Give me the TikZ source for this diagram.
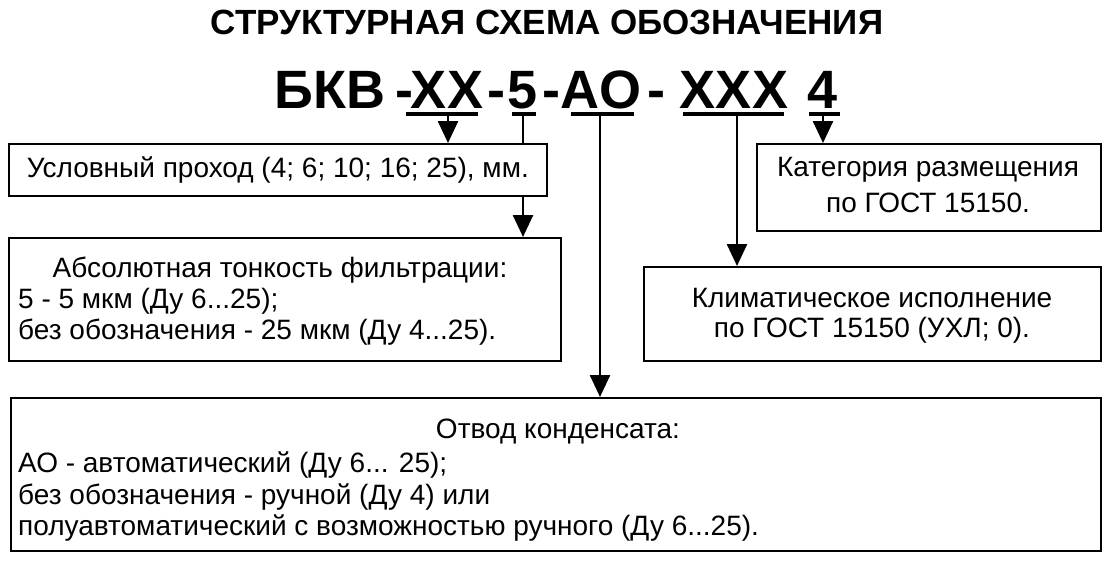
\documentclass[tikz,border=0pt]{standalone}
\usepackage{fontspec}
\setmainfont{Liberation Sans}
\usetikzlibrary{arrows.meta}
\begin{document}
\begin{tikzpicture}[x=1pt,y=-1pt,
  box/.style={draw,line width=1.6pt},
  txt/.style={font=\fontsize{28}{32}\selectfont,inner sep=0pt},
  code/.style={font=\bfseries\fontsize{54}{60}\selectfont,inner sep=0pt,anchor=base},
  ul/.style={line width=4pt},
  con/.style={line width=2.6pt},
  arr/.style={con,-{Triangle[width=20pt,length=22pt]}}]
\useasboundingbox (0,0) rectangle (1111,562);
\node[font=\bfseries\fontsize{35}{40}\selectfont,inner sep=0pt] (title) at (547,22) {СТРУКТУРНАЯ СХЕМА ОБОЗНАЧЕНИЯ};
\node[code] (c1) at (330,108) {БКВ};
\node[code] (c1d) at (404,108) {-};
\node[code] (c2) at (447,108) {XX};
\node[code] (c3) at (496,108) {-};
\node[code] (c4) at (523,108) {5};
\node[code] (c5) at (551,108) {-};
\node[code] (c6) at (601,108) {AO};
\node[code] (c7) at (656,108) {-};
\node[code] (c8) at (734,108) {XXX};
\node[code] (c9) at (823,108) {4};
\coordinate (u2a) at (406,114); \coordinate (u2b) at (478,114);
\coordinate (u4a) at (512,114); \coordinate (u4b) at (536,114);
\coordinate (u6a) at (571,114); \coordinate (u6b) at (634,114);
\coordinate (u8a) at (683,114); \coordinate (u8b) at (784,114);
\coordinate (u9a) at (809,114); \coordinate (u9b) at (840,114);
\foreach \a/\b in {u2a/u2b,u4a/u4b,u6a/u6b,u8a/u8b,u9a/u9b} \draw[ul] (\a) -- (\b);
% boxes
\node[box,minimum width=538,minimum height=52,anchor=north west] (b1) at (8,143) {};
\node[txt] at (b1.center) {Условный проход (4; 6; 10; 16; 25), мм.};
\node[box,minimum width=552,minimum height=123,anchor=north west] (b2) at (8,237) {};
\node[txt] at (280,270) {Абсолютная тонкость фильтрации:};
\node[txt,anchor=west] at (18,301) {5 - 5 мкм (Ду 6...25);};
\node[txt,anchor=west] at (18,332) {без обозначения - 25 мкм (Ду 4...25).};
\node[box,minimum width=1090,minimum height=153,anchor=north west] (b3) at (10,397) {};
\node[txt] at (558,432) {Отвод конденсата:};
\node[txt,anchor=west] at (18,465) {АО - автоматический (Ду 6... 25);};
\node[txt,anchor=west] at (18,497) {без обозначения - ручной (Ду 4) или};
\node[txt,anchor=west] at (18,528) {полуавтоматический с возможностью ручного (Ду 6...25).};
\node[box,minimum width=457,minimum height=94,anchor=north west] (b4) at (643,266) {};
\node[txt] at (872,298) {Климатическое исполнение};
\node[txt] at (872,330) {по ГОСТ 15150 (УХЛ; 0).};
\node[box,minimum width=344,minimum height=87,anchor=north west] (b5) at (756,143) {};
\node[txt] at (928,170) {Категория размещения};
\node[txt] at (928,203) {по ГОСТ 15150.};
% connectors
\draw[arr] (448,114) -- (b1.north -| 448,0);
\draw[con] (523,114) -- (b1.north -| 523,0);
\draw[arr] (b1.south -| 523,0) -- (b2.north -| 523,0);
\draw[arr] (600,114) -- (b3.north -| 600,0);
\draw[arr] (737,114) -- (b4.north -| 737,0);
\draw[arr] (823,114) -- (b5.north -| 823,0);
\end{tikzpicture}
\end{document}
